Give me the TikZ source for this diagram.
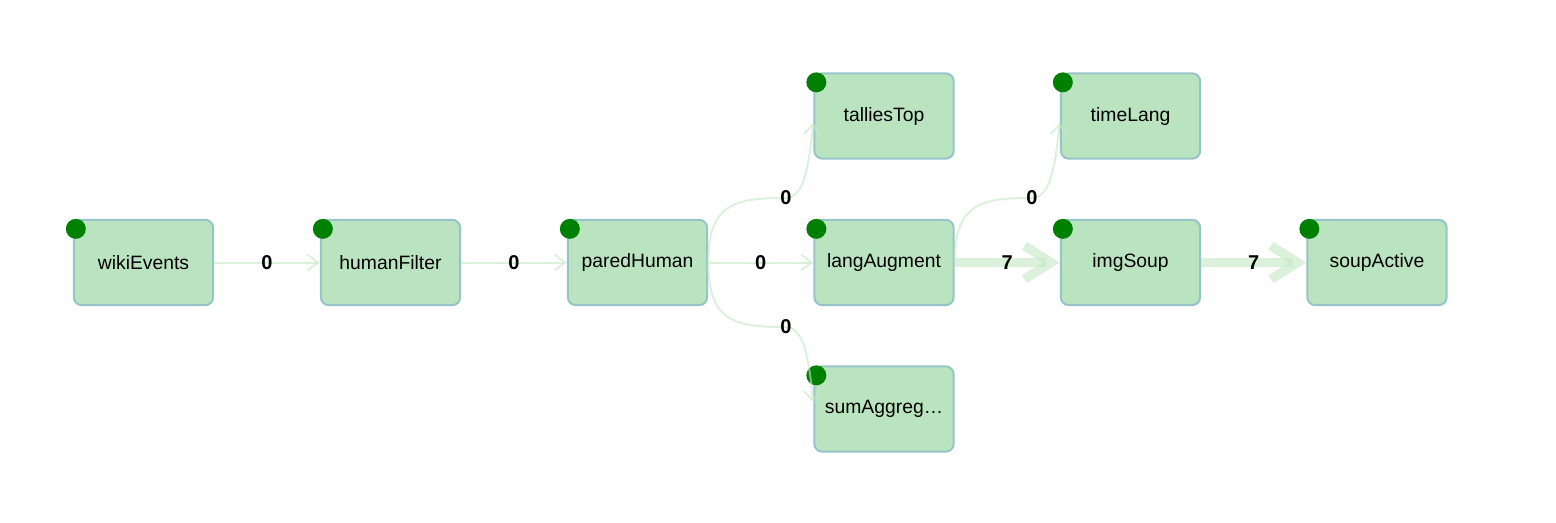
\documentclass[tikz,border=0pt]{standalone}
\usepackage{fontspec}
\setmainfont{Liberation Sans}
\usetikzlibrary{arrows.meta}

\definecolor{taskfill}{RGB}{186,228,192}
\definecolor{taskline}{RGB}{150,196,200}
\definecolor{dotgreen}{RGB}{0,128,0}
\definecolor{flow}{RGB}{196,232,196}

\tikzset{
  task/.style={draw=taskline, line width=1.5pt, fill=taskfill, rounded corners=6pt,
    minimum width=104.5pt, minimum height=64pt, inner sep=0pt,
    font=\fontsize{14.5}{17}\selectfont},
  flowthin/.style={draw=flow, draw opacity=0.6, line width=1.5pt,
    -{Straight Barb[length=8pt,width=12pt]}},
  flowthick/.style={draw=flow, draw opacity=0.6, line width=7pt,
    -{Straight Barb[length=20pt,width=25pt]}},
  count/.style={font=\bfseries\fontsize{15}{17}\selectfont, inner sep=1pt},
}

\begin{document}
\begin{tikzpicture}[x=0.75pt, y=-0.75pt]
\useasboundingbox (0,0) rectangle (1556,522);

% Etapas
\node[task] (wikiEvents)  at (143.5,262.5) {wikiEvents};
\node[task] (humanFilter) at (390.5,262.5) {humanFilter};
\node[task] (paredHuman)  at (637.5,262.5) {paredHuman};
\node[task] (langAugment) at (884,262.5)   {langAugment};
\node[task] (imgSoup)     at (1130.5,262.5) {imgSoup};
\node[task] (soupActive)  at (1377,262.5)  {soupActive};
\node[task] (talliesTop)  at (884,116)     {talliesTop};
\node[task] (timeLang)    at (1130.5,116)  {timeLang};
\node[task] (sumAggreg)   at (884,409)     {sumAggreg\ldots};

% Puntos de estado
\foreach \n in {wikiEvents,humanFilter,paredHuman,langAugment,imgSoup,soupActive,talliesTop,timeLang,sumAggreg}
  \fill[dotgreen] ([xshift=2.25pt,yshift=-7.5pt]\n.north west) circle (7.5pt);

% Flujos
\draw[flowthin] (wikiEvents) -- node[count] (cWH) {0} (humanFilter);
\draw[flowthin] (humanFilter) -- node[count] (cHP) {0} (paredHuman);
\draw[flowthin] (paredHuman) -- node[count] (cPL) {0} (langAugment);
\draw[flowthin] (paredHuman.east) .. controls +(0,-60) and +(-50,0) .. (786,198) node[count] (cPT) {0}
  .. controls +(20,0) and +(-4,35) .. ([yshift=-5pt]talliesTop.west);
\draw[flowthin] (paredHuman.east) .. controls +(0,60) and +(-50,0) .. (786,327) node[count] (cPS) {0}
  .. controls +(20,0) and +(-4,-35) .. ([yshift=5pt]sumAggreg.west);
\draw[flowthin] (langAugment.east) .. controls +(0,-60) and +(-50,0) .. (1032,198) node[count] (cLT) {0}
  .. controls +(20,0) and +(-4,35) .. ([yshift=-5pt]timeLang.west);
\draw[flowthick] (langAugment) -- node[count] (cLI) {7} (imgSoup);
\draw[flowthick] (imgSoup) -- node[count] (cIS) {7} (soupActive);
\end{tikzpicture}
\end{document}
